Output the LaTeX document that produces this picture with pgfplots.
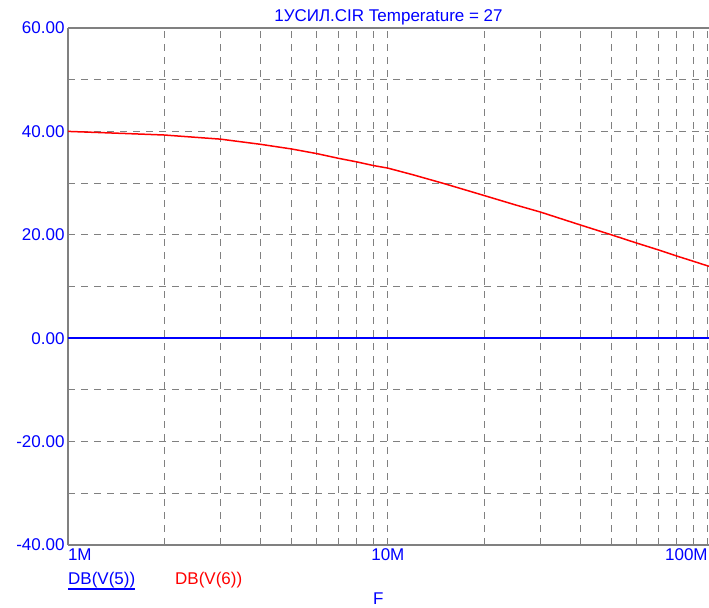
\documentclass[border=0pt]{standalone}
\usepackage{fontspec}
\setmainfont{Liberation Sans}
\usepackage{pgfplots}
\pgfplotsset{compat=1.18}
\definecolor{gridgray}{RGB}{128,128,128}
\newcommand\ff{\fontsize{17bp}{20bp}\selectfont}
\begin{document}
\begin{tikzpicture}
\useasboundingbox (0,0) rectangle (709bp,608bp);
\begin{axis}[
  at={(68bp,63bp)}, anchor=south west,
  scale only axis, width=641bp, height=517bp,
  xmode=log, xmin=1e6, xmax=1.01e8, ymin=-40, ymax=60,
  xtick={1e6,1e7,1e8},
  xticklabels={\makebox[0pt][l]{1M},10M,\makebox[0pt][r]{100M}},
  minor xtick={2e6,3e6,4e6,5e6,6e6,7e6,8e6,9e6,2e7,3e7,4e7,5e7,6e7,7e7,8e7,9e7},
  ytick={-40,-20,0,20,40,60},
  yticklabels={-40.00,-20.00,0.00,20.00,40.00,60.00},
  minor ytick={-30,-10,10,30,50},
  grid=both,
  major grid style={gridgray, dash pattern=on 7bp off 6bp, line width=1bp},
  minor grid style={gridgray, dash pattern=on 7bp off 6bp, line width=1bp},
  major tick length=0pt, minor tick length=0pt,
  axis x line*=box, axis y line*=left,
  axis line style={gridgray, line width=1.5bp, -},
  tick label style={font=\ff, text=blue},
  clip=false,
]
\addplot[blue, line width=1.5bp] coordinates {(1e6,0) (1.01e8,0)};
\addplot[red, line width=1.5bp] coordinates {
(1e6,40.0) (1.5e6,39.6) (2e6,39.3) (3e6,38.5) (4e6,37.5) (5e6,36.6)
(6e6,35.7) (7e6,34.8) (8e6,34.1) (9e6,33.4) (1e7,32.9) (1.2e7,31.6)
(1.5e7,29.9) (2e7,27.6) (2.5e7,25.8) (3e7,24.4) (4e7,21.9) (5e7,20.0)
(6e7,18.4) (7e7,17.1) (8e7,15.9) (9e7,14.9) (1.01e8,13.9)};
\end{axis}
\node[anchor=base, inner sep=0, color=blue, font=\ff] at (388.5bp,586bp) {1УСИЛ.CIR Temperature = 27};
\node[anchor=base west, inner sep=0, color=blue, font=\ff] (u) at (68bp,24bp) {DB(V(5))};
\draw[blue, line width=1.2bp] ([yshift=-5bp]u.base west) -- ([yshift=-5bp]u.base east);
\node[anchor=base west, inner sep=0, color=red, font=\ff] at (175bp,24bp) {DB(V(6))};
\node[anchor=base west, inner sep=0, color=blue, font=\ff] at (373bp,4bp) {F};
\end{tikzpicture}
\end{document}
